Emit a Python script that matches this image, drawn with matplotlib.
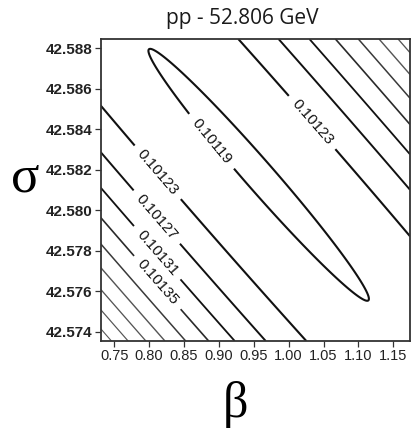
#!/usr/bin/env python3
"""Contour map of the fit objective over (beta, sigma) for pp at 52.806 GeV."""

import matplotlib

matplotlib.use('Agg')
import matplotlib.pyplot as plt
import numpy as np

TITLE = 'pp - 52.806 GeV'

# quadratic surface around the best-fit point
BETA_MIN_PT = 0.957
SIGMA_MIN_PT = 42.58175
F_MIN = 0.1011884
VALLEY_SLOPE = -0.04      # d(sigma)/d(beta) along the valley floor
CURV_ACROSS = 0.00207     # per beta^2, across the valley
CURV_ALONG = 0.0413       # per sigma^2, along the valley

LEVELS = [0.10119, 0.10123, 0.10127, 0.10131, 0.10135, 0.10139,
          0.10143, 0.10147, 0.10151, 0.10155, 0.10159, 0.10163]

BETA_RANGE = (0.7305, 1.174)
SIGMA_RANGE = (42.57354, 42.58846)
BETA_TICKS = [0.75, 0.80, 0.85, 0.90, 0.95, 1.00, 1.05, 1.10, 1.15]
SIGMA_TICKS = [42.574, 42.576, 42.578, 42.580, 42.582, 42.584, 42.586, 42.588]

# (beta, sigma) spots where the level labels sit
LABEL_SPOTS = [
    (0.8829, 42.58322),
    (1.0378, 42.58446),
    (0.8112, 42.58184),
    (0.8112, 42.57967),
    (0.8112, 42.57789),
    (0.8112, 42.57641),
]


def surface(b, s):
    across = (b - BETA_MIN_PT) - (s - SIGMA_MIN_PT) / VALLEY_SLOPE
    return F_MIN + CURV_ACROSS * across ** 2 + CURV_ALONG * (s - SIGMA_MIN_PT) ** 2


def main():
    b = np.linspace(*BETA_RANGE, 500)
    s = np.linspace(*SIGMA_RANGE, 500)
    B, S = np.meshgrid(b, s)
    F = surface(B, S)

    n = len(LEVELS)
    widths = [1.5, 1.5, 1.4, 1.3, 1.2] + [max(1.1 - 0.08 * i, 0.7) for i in range(n - 5)]
    colors = ['#111111'] * 4 + ['#2a2a2a', '#3a3a3a'] + ['#555555'] * (n - 6)

    fig = plt.figure(figsize=(4.11, 4.30), dpi=100)
    ax = fig.add_axes([0.245, 0.207, 0.7526, 0.7023])
    cs = ax.contour(B, S, F, levels=LEVELS, colors=colors, linewidths=widths)
    labels = ax.clabel(cs, levels=LEVELS[:5], manual=LABEL_SPOTS, inline=True,
                       inline_spacing=4, fmt='%.5f', fontsize=11, colors='#111111')
    for t in labels:
        t.set_family('Liberation Sans')

    ax.set_xlim(*BETA_RANGE)
    ax.set_ylim(*SIGMA_RANGE)
    ax.set_xticks(BETA_TICKS)
    ax.set_xticklabels([f'{v:.2f}' for v in BETA_TICKS],
                       fontsize=10.5, family='Liberation Sans', color='#222222')
    ax.set_yticks(SIGMA_TICKS)
    ax.set_yticklabels([f'{v:.3f}' for v in SIGMA_TICKS],
                       fontsize=11, family='Liberation Sans', fontweight='bold',
                       color='#222222')
    ax.tick_params(direction='out', length=4, width=0.9, color='#333333', pad=2)
    for sp in ax.spines.values():
        sp.set_linewidth(1.3)
        sp.set_color('#333333')

    fig.text(0.589, 0.958, TITLE, ha='center', va='center',
             fontsize=15, family='Open Sans', color='#1a1a1a')
    fig.text(0.061, 0.585, 'σ', ha='center', va='center',
             fontsize=38, family='Liberation Serif')
    fig.text(0.574, 0.06, 'β', ha='center', va='center',
             fontsize=36, family='Liberation Serif')

    fig.savefig('out.png', dpi=100)
    plt.close(fig)
    return 0


if __name__ == '__main__':
    raise SystemExit(main())
